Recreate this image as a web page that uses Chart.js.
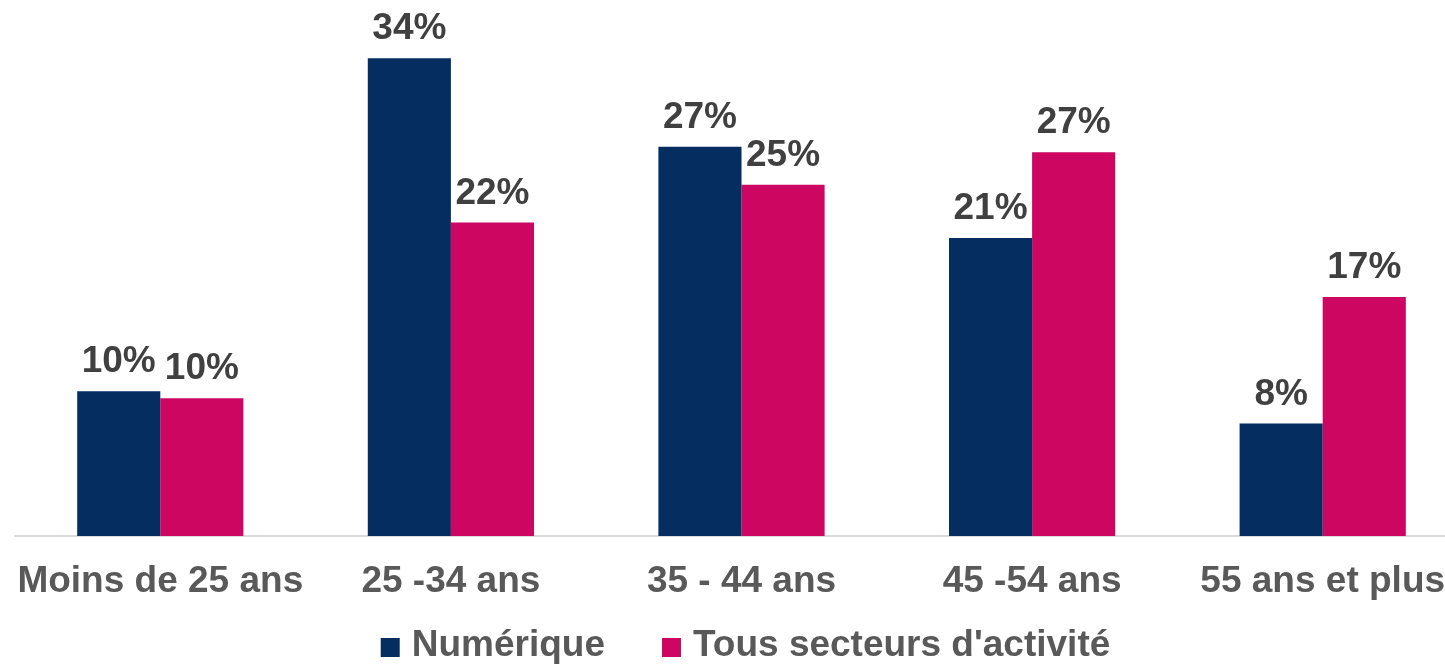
<!DOCTYPE html>
<html>
<head>
<meta charset="utf-8">
<script src="https://cdn.jsdelivr.net/npm/chart.js@4/dist/chart.umd.min.js"></script>
<style>
  html, body { margin: 0; padding: 0; background: #fff; overflow: hidden; }
  #wrap { width: 1468px; height: 665px; position: relative; }
</style>
</head>
<body>
<div id="wrap"><canvas id="chart"></canvas></div>
<script>
// age groups and shares (%)
const categories = ['Moins de 25 ans', '25 -34 ans', '35 - 44 ans', '45 -54 ans', '55 ans et plus'];
const numerique = [10.3, 34.0, 27.7, 21.2, 8.0];
const tousSecteurs = [9.8, 22.3, 25.0, 27.3, 17.0];
// printed values above the bars
const numeriqueLabels = ['10%', '34%', '27%', '21%', '8%'];
const tousSecteursLabels = ['10%', '22%', '25%', '27%', '17%'];
const seriesNames = ['Numérique', "Tous secteurs d'activité"];
const seriesColors = ['#062d5f', '#cc0661'];

const FONT = '"Liberation Sans", Arial, sans-serif';

// draw the % value above each bar
const barLabels = {
    id: 'barLabels',
    afterDatasetsDraw(chart) {
        const ctx = chart.ctx;
        ctx.save();
        ctx.font = 'bold 37px ' + FONT;
        ctx.fillStyle = '#404040';
        ctx.textAlign = 'center';
        ctx.textBaseline = 'alphabetic';
        chart.data.datasets.forEach((ds, i) => {
            chart.getDatasetMeta(i).data.forEach((bar, j) => {
                ctx.fillText(ds.valueLabels[j], bar.x, bar.y - 19);
            });
        });
        ctx.restore();
    }
};

// legend row under the axis labels
const bottomLegend = {
    id: 'bottomLegend',
    afterDraw(chart) {
        const ctx = chart.ctx;
        const box = 19, gapText = 12, gapItem = 57;
        ctx.save();
        ctx.font = 'bold 37px ' + FONT;
        const items = chart.data.datasets.map(ds => ({
            text: ds.label, color: ds.backgroundColor, w: ctx.measureText(ds.label).width
        }));
        let total = 0;
        items.forEach((it, i) => { total += box + gapText + it.w + (i ? gapItem : 0); });
        let x = 745.5 - total / 2;
        const yMid = 646;
        ctx.textBaseline = 'middle';
        ctx.textAlign = 'left';
        items.forEach(it => {
            ctx.fillStyle = it.color;
            ctx.fillRect(x, yMid - 8, box, box);
            x += box + gapText;
            ctx.fillStyle = '#595959';
            ctx.fillText(it.text, x, yMid);
            x += it.w + gapItem;
        });
        ctx.restore();
    }
};

const ctx = document.getElementById('chart').getContext('2d');
new Chart(ctx, {
    type: 'bar',
    data: {
        labels: categories,
        datasets: [{
            label: seriesNames[0],
            data: numerique,
            valueLabels: numeriqueLabels,
            backgroundColor: seriesColors[0],
            categoryPercentage: 0.572,
            barPercentage: 1.0
        }, {
            label: seriesNames[1],
            data: tousSecteurs,
            valueLabels: tousSecteursLabels,
            backgroundColor: seriesColors[1],
            categoryPercentage: 0.572,
            barPercentage: 1.0
        }]
    },
    options: {
        responsive: true,
        maintainAspectRatio: false,
        animation: false,
        layout: { padding: { left: 15, right: 0, top: 16, bottom: 59 } },
        plugins: {
            legend: { display: false },
            tooltip: { enabled: false }
        },
        scales: {
            x: {
                grid: { display: false, drawTicks: false },
                border: { display: true, color: '#d9d9d9', width: 2 },
                ticks: {
                    padding: 24,
                    maxRotation: 0,
                    minRotation: 0,
                    autoSkip: false,
                    color: '#595959',
                    font: { family: FONT, size: 37, weight: 'bold' }
                },
                // labels may overhang the plot edges like the original
                afterFit(scale) {
                    scale.paddingLeft = 0;
                    scale.paddingRight = 0;
                    scale.height = 70;
                }
            },
            y: {
                display: false,
                min: 0,
                max: 37
            }
        }
    },
    plugins: [barLabels, bottomLegend]
});
</script>
</body>
</html>
